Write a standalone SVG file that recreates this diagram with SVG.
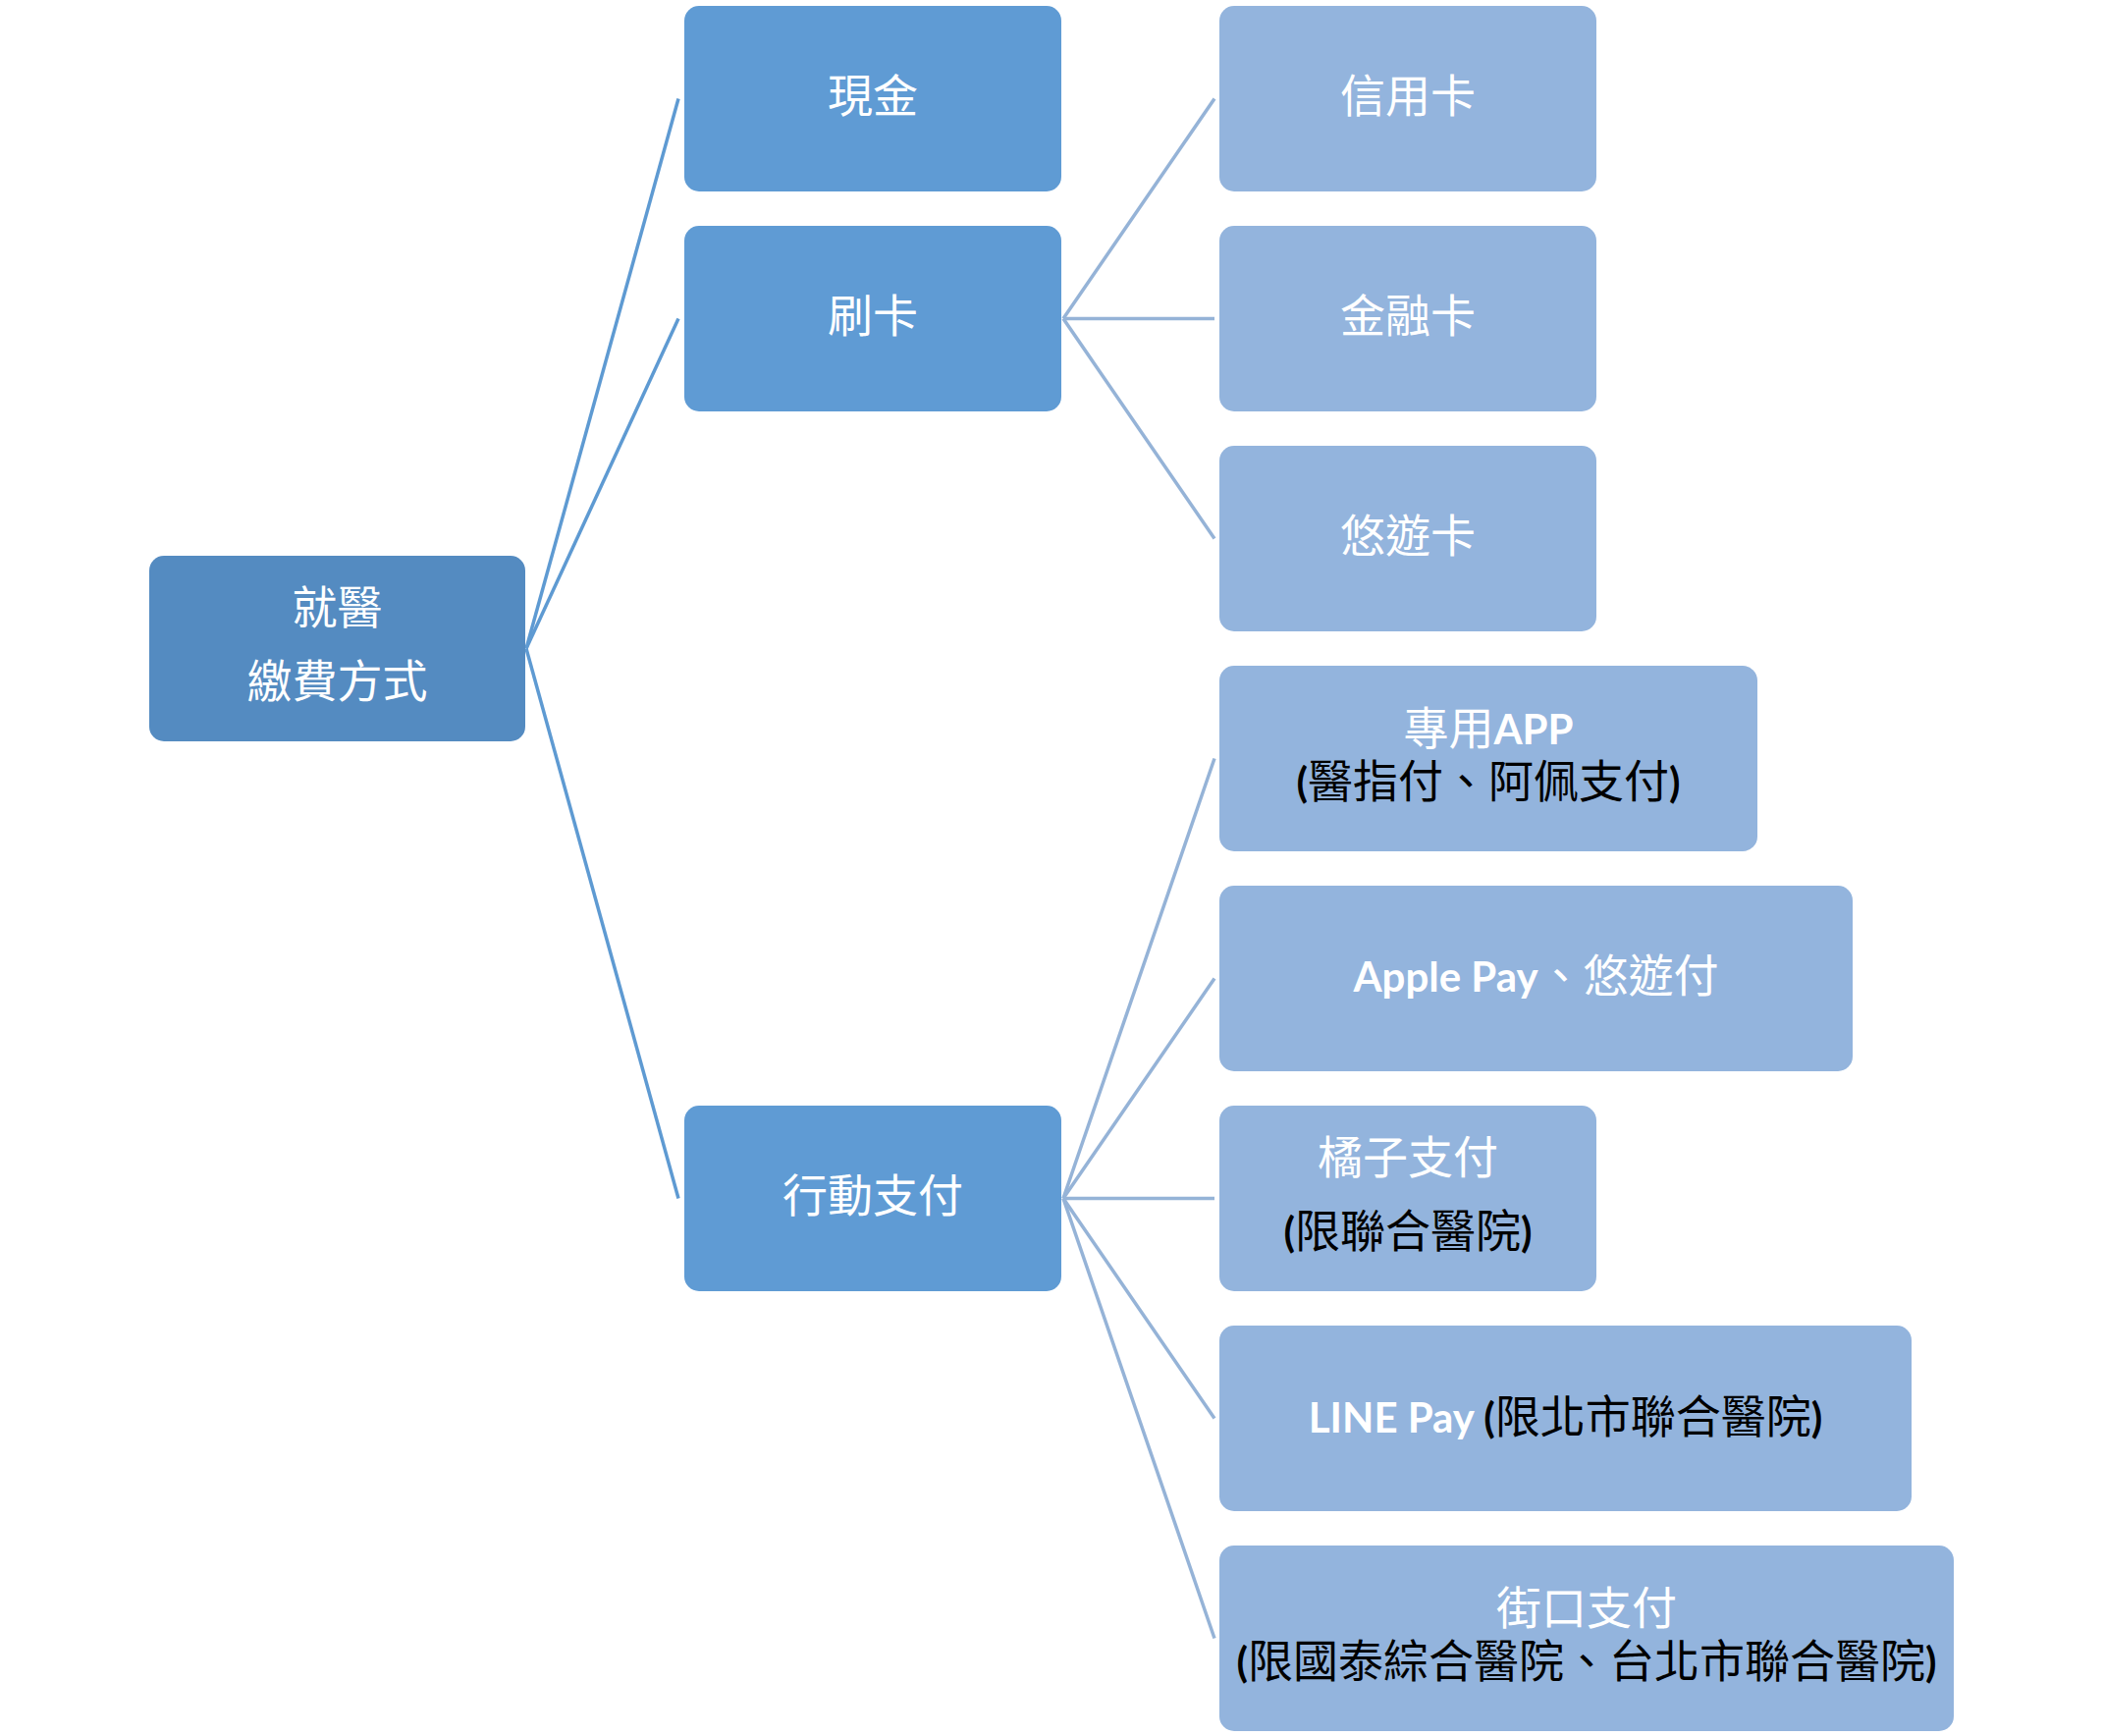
<svg xmlns="http://www.w3.org/2000/svg" width="2142" height="1768" viewBox="0 0 2142 1768">
<style>
.root{fill:#548BC1}
.l1{fill:#5F9BD4}
.l2{fill:#93B4DD}
.c1{stroke:#5E9AD2;stroke-width:3.5;fill:none}
.c2{stroke:#95B3D7;stroke-width:3.5;fill:none}
text{font-family:"Noto Sans CJK TC","Noto Sans CJK SC",sans-serif;font-size:46px;text-anchor:middle}
.w{fill:#FFFFFF}
.k{fill:#000000}
.lat{font-family:Lato,"Liberation Sans",sans-serif;font-weight:bold;font-size:42px}
</style>
<rect width="2142" height="1768" fill="#FFFFFF"/>
<g id="connectors">
<line class="c1" x1="536" y1="660.5" x2="691" y2="100.5"/>
<line class="c1" x1="536" y1="660.5" x2="691" y2="324.5"/>
<line class="c1" x1="536" y1="660.5" x2="691" y2="1220.5"/>
<line class="c2" x1="1083" y1="324.5" x2="1237" y2="100.5"/>
<line class="c2" x1="1083" y1="324.5" x2="1237" y2="324.5"/>
<line class="c2" x1="1083" y1="324.5" x2="1237" y2="548.5"/>
<line class="c2" x1="1083" y1="1220.5" x2="1237" y2="772.5"/>
<line class="c2" x1="1083" y1="1220.5" x2="1237" y2="996.5"/>
<line class="c2" x1="1083" y1="1220.5" x2="1237" y2="1220.5"/>
<line class="c2" x1="1083" y1="1220.5" x2="1237" y2="1444.5"/>
<line class="c2" x1="1083" y1="1220.5" x2="1237" y2="1668.5"/>
</g>
<g id="root">
<rect class="root" x="152" y="566" width="383" height="189" rx="15"/>
<text class="w" x="343.5" y="634.5">就醫</text>
<text class="w" x="343.5" y="709.5">繳費方式</text>
</g>
<g id="cash">
<rect class="l1" x="697" y="6" width="384" height="189" rx="15"/>
<text class="w" x="889" y="113.5">現金</text>
</g>
<g id="card">
<rect class="l1" x="697" y="230" width="384" height="189" rx="15"/>
<text class="w" x="889" y="337.5">刷卡</text>
</g>
<g id="mobile">
<rect class="l1" x="697" y="1126" width="384" height="189" rx="15"/>
<text class="w" x="889" y="1233.5">行動支付</text>
</g>
<g id="credit">
<rect class="l2" x="1242" y="6" width="384" height="189" rx="15"/>
<text class="w" x="1434" y="113.5">信用卡</text>
</g>
<g id="debit">
<rect class="l2" x="1242" y="230" width="384" height="189" rx="15"/>
<text class="w" x="1434" y="337.5">金融卡</text>
</g>
<g id="easycard">
<rect class="l2" x="1242" y="454" width="384" height="189" rx="15"/>
<text class="w" x="1434" y="561.5">悠遊卡</text>
</g>
<g id="app">
<rect class="l2" x="1242" y="678" width="548" height="189" rx="15"/>
<text class="w" x="1516" y="758"><tspan>專用</tspan><tspan class="lat">APP</tspan></text>
<text class="k" x="1516" y="812"><tspan class="lat">(</tspan><tspan>醫指付、阿佩支付</tspan><tspan class="lat">)</tspan></text>
</g>
<g id="applepay">
<rect class="l2" x="1242" y="902" width="645" height="189" rx="15"/>
<text class="w" x="1564.5" y="1009.5"><tspan class="lat">Apple Pay</tspan><tspan>、悠遊付</tspan></text>
</g>
<g id="gama">
<rect class="l2" x="1242" y="1126" width="384" height="189" rx="15"/>
<text class="w" x="1434" y="1194.5">橘子支付</text>
<text class="k" x="1434" y="1269.5"><tspan class="lat">(</tspan><tspan>限聯合醫院</tspan><tspan class="lat">)</tspan></text>
</g>
<g id="linepay">
<rect class="l2" x="1242" y="1350" width="705" height="189" rx="15"/>
<text x="1594.5" y="1459"><tspan class="lat w">LINE Pay </tspan><tspan class="lat k">(</tspan><tspan class="k">限北市聯合醫院</tspan><tspan class="lat k">)</tspan></text>
</g>
<g id="jkopay">
<rect class="l2" x="1242" y="1574" width="748" height="189" rx="15"/>
<text class="w" x="1616" y="1653.5">街口支付</text>
<text class="k" x="1616" y="1707.5"><tspan class="lat">(</tspan><tspan>限國泰綜合醫院、台北市聯合醫院</tspan><tspan class="lat">)</tspan></text>
</g>
</svg>
